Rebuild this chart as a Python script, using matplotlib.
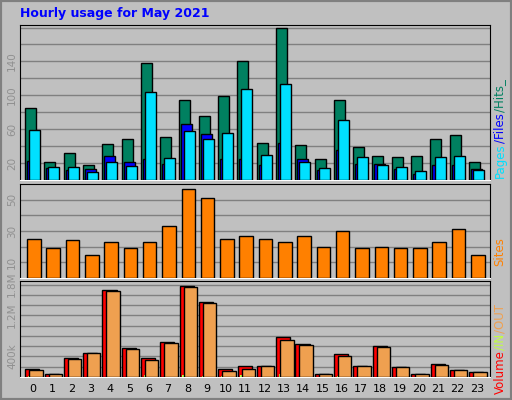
import numpy as np
import matplotlib.pyplot as plt

hours = list(range(24))
hits = [85, 21, 32, 18, 42, 48, 138, 51, 94, 75, 99, 140, 44, 180, 41, 25, 94, 39, 28, 27, 28, 48, 53, 21]
files = [59, 15, 15, 9, 21, 16, 104, 26, 58, 48, 55, 107, 29, 113, 21, 14, 71, 27, 18, 15, 11, 27, 28, 12]
pages = [22, 14, 12, 13, 28, 21, 25, 19, 66, 54, 25, 25, 18, 44, 25, 12, 36, 19, 19, 13, 7, 18, 18, 13]
sites = [25, 19, 24, 15, 23, 19, 23, 33, 57, 51, 25, 27, 25, 23, 27, 20, 30, 19, 20, 19, 19, 23, 31, 15]
vol_total = [159, 62, 367, 465, 1700, 562, 367, 680, 1778, 1460, 153, 211, 211, 783, 647, 62, 452, 211, 608, 198, 62, 257, 140, 101]
vol_in = [20, 0, 0, 0, 0, 0, 40, 0, 30, 25, 20, 40, 0, 60, 0, 0, 20, 0, 0, 0, 0, 0, 0, 0]
vol_out = [140, 62, 348, 465, 1680, 543, 328, 660, 1758, 1440, 114, 153, 211, 718, 627, 62, 406, 211, 588, 192, 62, 231, 140, 101]

W, H = 512, 400
BG = '#C0C0C0'
fig = plt.figure(figsize=(W / 100, H / 100), dpi=100, facecolor=BG)
# bevel border
fig.patches.append(plt.Rectangle((0, 0), 1, 1, transform=fig.transFigure, fill=False,
                                 edgecolor='#808080', lw=3))


def axbox(left, top, right, bottom):
    return fig.add_axes([left / W, 1 - bottom / H, (right - left) / W, (bottom - top) / H])


x = np.array(hours)
ek = dict(edgecolor='black', linewidth=1)

ax1 = axbox(20, 25, 490, 180)
ax1.bar(x - 0.125, hits, width=0.57, color='#008060', align='center', zorder=3, **ek)
ax1.bar(x - 0.02, pages, width=0.57, color='#0000FF', zorder=4, **ek)
ax1.bar(x + 0.09, files, width=0.57, color='#00E0FF', zorder=5, **ek)
ax1.set_ylim(0, 183)
ax1.set_yticks([20, 60, 100, 140])
ax1.set_yticks(range(20, 181, 20), minor=True)

ax2 = axbox(20, 184, 490, 278)
ax2.bar(x + 0.05, sites, width=0.7, color='#FF8000', zorder=3, **ek)
ax2.set_ylim(0, 60)
ax2.set_yticks([10, 30, 50])
ax2.set_yticks(range(10, 60, 10), minor=True)

ax3 = axbox(20, 281, 490, 377)
ax3.bar(x - 0.035, vol_total, width=0.73, color='#FF0000', zorder=3, **ek)
ax3.bar(x - 0.2, vol_in, width=0.12, color='#C0FF40', zorder=4, linewidth=0)
ax3.bar(x + 0.155, vol_out, width=0.69, color='#EFA050', zorder=5, **ek)
ax3.set_ylim(0, 1870)
ax3.set_yticks([400, 1200, 1800])
ax3.set_yticklabels(['400k', '1.2M', '1.8M'])
ax3.set_yticks(range(200, 1870, 200), minor=True)
ax3.set_xticks(hours)
ax3.set_xticklabels([str(h) for h in hours], fontsize=8)

for ax in (ax1, ax2, ax3):
    ax.set_facecolor(BG)
    ax.set_xlim(-0.67, 23.68)
    ax.grid(True, which='minor', axis='y', color='#808080', lw=1, zorder=1)
    ax.grid(True, which='major', axis='y', color='#808080', lw=1, zorder=1)
    ax.tick_params(axis='y', which='both', length=0, labelsize=7.5, labelcolor='#909090',
                   labelrotation=90, pad=2)
    ax.tick_params(axis='x', length=0, pad=5)
    ax.spines['bottom'].set_color('white')
    ax.spines['top'].set_color('black')
    for s in ('left', 'right'):
        ax.spines[s].set_color('black')
    for lab in ax.get_yticklabels():
        lab.set_va('center')
ax1.set_xticks([])
ax2.set_xticks([])

fig.text(20 / W, 1 - 14 / H, 'Hourly usage for May 2021', color='#0000FF', fontsize=9,
         fontweight='bold', va='center', ha='left')

renderer = fig.canvas.get_renderer()


def vlabel(xp, ybot, parts, fs=8.5):
    # stack rotated text pieces bottom to top, measuring each one
    y = ybot
    for txt, col in parts:
        t = fig.text(xp / W, 1 - y / H, txt, color=col, rotation=90, fontsize=fs,
                     ha='center', va='bottom')
        bb = t.get_window_extent(renderer)
        y -= bb.height + 0.5


vlabel(500, 178, [('Pages', '#00E0FF'), ('/Files', '#0000FF'), ('/Hits_', '#008060')])
vlabel(500, 266, [('Sites', '#FF8000')])
vlabel(500, 394, [('Volume', '#FF0000'), ('/IN', '#C0FF40'), ('/OUT', '#EFA050')])

fig.savefig('out.png', dpi=100, facecolor=BG)
